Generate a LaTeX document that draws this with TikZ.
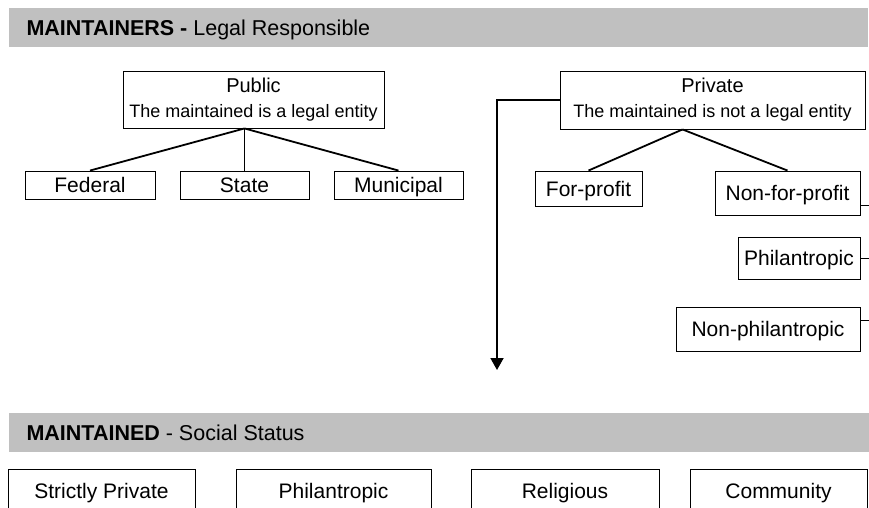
\documentclass[tikz,border=0pt]{standalone}
\usepackage{fontspec}
\setmainfont{Liberation Sans}
\usetikzlibrary{calc,arrows.meta}
\definecolor{barfill}{HTML}{C0C0C0}

\begin{document}
\begin{tikzpicture}[x=1pt,y=-1pt,
  bar/.style={fill=barfill,inner sep=0pt,minimum height=39pt},
  box/.style={draw,line width=0.9pt,inner sep=2pt,text height=19pt,text depth=4pt,
    font=\fontsize{21}{25}\selectfont},
  duo/.style={draw,line width=0.9pt,align=center,inner sep=2pt,font=\fontsize{18}{25}\selectfont},
  conn/.style={line width=1.8pt}]
\clip (0,0) rectangle (869,508);
% maintainers
\node[bar,minimum width=859pt] (topbar) at (438.5,27.5) {};
\node[anchor=base west,font=\fontsize{21.5}{25}\selectfont] (toptitle) at (23,36)
  {\textbf{MAINTAINERS -} Legal Responsible};
\node[duo,minimum width=261pt,minimum height=57pt] (public) at (253.5,99.5)
  {{\fontsize{20}{25}\selectfont Public}\\The maintained is a legal entity};
\node[duo,minimum width=305pt,minimum height=58pt] (private) at (712.5,100)
  {{\fontsize{20}{25}\selectfont Private}\\The maintained is not a legal entity};
\node[box,minimum width=130pt,minimum height=28pt] (federal) at (90,185) {Federal};
\node[box,minimum width=129pt,minimum height=28pt] (state) at (244.5,185) {State};
\node[box,minimum width=129pt,minimum height=28pt] (municipal) at (398.5,185) {Municipal};
\node[box,minimum width=107pt,minimum height=35pt] (forprofit) at (588.5,188.5) {For-profit};
\node[box,minimum width=145pt,minimum height=44pt] (nonprofit) at (787.5,193) {Non-for-profit};
\node[box,minimum width=122pt,minimum height=42pt] (philan) at (799,258) {Philantropic};
\node[box,minimum width=184pt,minimum height=44pt] (nonphilan) at (768,329) {Non-philantropic};
\coordinate (pubjoin) at (public.south -| state.north);
\coordinate (privjoin) at ($(private.south)+(-30,0)$);
\coordinate (down) at (497,370);
\draw[conn] (pubjoin) -- (federal.north);
\draw[conn] (pubjoin) -- (state.north);
\draw[conn] (pubjoin) -- (municipal.north);
\draw[conn] (privjoin) -- (forprofit.north);
\draw[conn] (privjoin) -- (nonprofit.north);
\draw[conn,-{Triangle[width=13pt,length=12pt]}] (private.west) -| (down);
% stubs running off the right edge
\draw[line width=0.9pt] ([yshift=-12pt]nonprofit.east) -- ++(10,0);
\draw[line width=0.9pt] (philan.east) -- ++(10,0);
\draw[line width=0.9pt] ([yshift=9pt]nonphilan.east) -- ++(10,0);
% maintained
\node[bar,minimum width=860pt] (lowbar) at (439,432.5) {};
\node[anchor=base west,font=\fontsize{21.5}{25}\selectfont] (lowtitle) at (23,440)
  {\textbf{MAINTAINED} - Social Status};
\node[box,minimum width=187pt,minimum height=44pt] (strict) at (101.5,491) {Strictly Private};
\node[box,minimum width=195pt,minimum height=44pt] (philanthropic) at (333.5,491) {Philantropic};
\node[box,minimum width=188pt,minimum height=44pt] (religious) at (565,491) {Religious};
\node[box,minimum width=177pt,minimum height=44pt] (community) at (778.5,491) {Community};
\end{tikzpicture}
\end{document}
